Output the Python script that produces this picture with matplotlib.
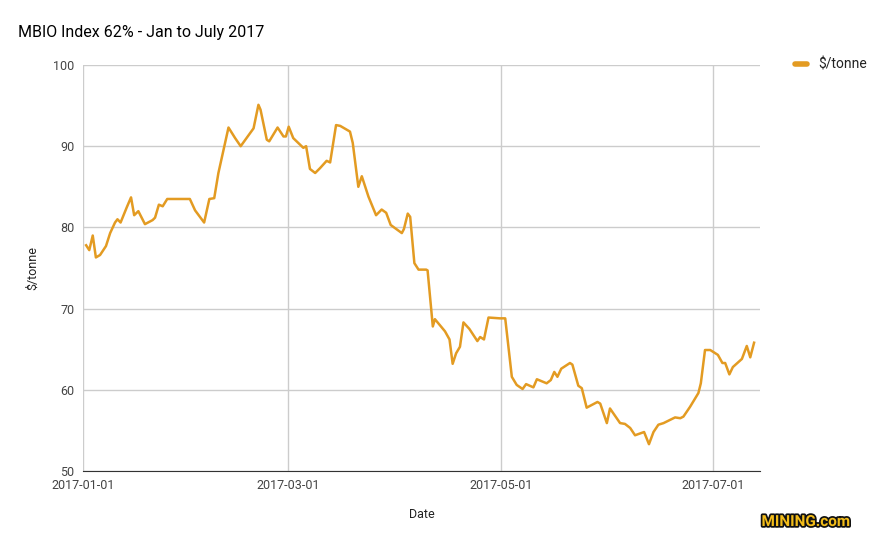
import pandas as pd
import matplotlib.pyplot as plt
import matplotlib.dates as mdates
import matplotlib.patheffects as pe
from matplotlib.lines import Line2D

# days after 2017-01-01 and price in $/tonne
days = [
    0.9, 1.8, 2.8, 3.7, 4.9, 6.6, 7.8, 9.2, 9.9, 10.8, 12.6, 13.8, 14.7, 15.9,
    17.8, 20.0, 20.7, 21.8, 22.9, 24.2, 30.7, 32.2, 34.8, 36.3, 37.7, 38.9,
    41.8, 43.7, 45.3, 49.0, 50.4, 51.0, 52.8, 53.5, 55.9, 57.6, 58.3, 59.1,
    60.4, 63.3, 64.1, 65.2, 66.7, 68.1, 70.0, 71.0, 72.7, 73.9, 76.7, 77.5,
    79.1, 80.1, 82.0, 84.2, 85.8, 87.1, 88.4, 91.6, 92.2, 93.3, 94.0, 95.2,
    96.4, 98.6, 99.0, 100.5, 101.1, 104.0, 105.3, 106.2, 107.2, 108.3, 109.3,
    111.0, 113.3, 114.1, 115.2, 116.5, 119.8, 120.8, 121.3, 123.2, 124.6,
    126.3, 127.3, 129.4, 130.4, 133.2, 134.4, 135.4, 136.3, 137.4, 139.9,
    140.6, 142.3, 143.3, 144.7, 147.8, 148.6, 150.5, 151.4, 154.3, 155.7,
    157.2, 158.6, 161.2, 162.6, 163.9, 165.3, 166.8, 170.1, 171.6, 172.5,
    174.4, 176.8, 177.5, 178.7, 180.2, 182.4, 183.7, 184.5, 185.7, 186.7,
    189.3, 190.7, 191.7, 192.8,
]
price = [
    77.8, 77.2, 79.0, 76.3, 76.6, 77.7, 79.3, 80.6, 81.0, 80.6, 82.5, 83.7, 81.5, 82.0,
    80.4, 80.9, 81.2, 82.8, 82.6, 83.5, 83.5, 82.1, 80.6, 83.5, 83.6, 86.7,
    92.3, 91.0, 90.0, 92.2, 95.1, 94.5, 90.8, 90.6, 92.3, 91.2, 91.2, 92.4,
    91.0, 89.8, 90.0, 87.2, 86.7, 87.3, 88.2, 88.0, 92.6, 92.5, 91.8, 90.4,
    85.0, 86.3, 83.8, 81.5, 82.2, 81.8, 80.3, 79.3, 79.8, 81.7, 81.3, 75.6,
    74.8, 74.8, 74.7, 67.8, 68.7, 67.2, 66.2, 63.2, 64.5, 65.3, 68.3,
    67.5, 66.0, 66.5, 66.2, 68.9, 68.8, 68.8, 68.8, 61.6, 60.6,
    60.1, 60.7, 60.3, 61.3, 60.8, 61.2, 62.2, 61.6, 62.6, 63.3,
    63.1, 60.5, 60.2, 57.8, 58.5, 58.3, 55.9, 57.7, 55.9, 55.8,
    55.3, 54.4, 54.8, 53.3, 54.8, 55.7, 55.9, 56.6, 56.5, 56.7,
    57.9, 59.6, 60.8, 64.9, 64.9, 64.3, 63.3, 63.3, 61.9, 62.8,
    63.8, 65.4, 64.0, 65.8,
]
x_ticks = ["2017-01-01", "2017-03-01", "2017-05-01", "2017-07-01"]
y_ticks = [50, 60, 70, 80, 90, 100]

start = pd.Timestamp("2017-01-01")
dates = [start + pd.Timedelta(days=d) for d in days]

plt.rcParams["font.family"] = ["Roboto", "DejaVu Sans"]

fig = plt.figure(figsize=(8.82, 5.46), dpi=100)
ax = fig.add_axes([83 / 882, 1 - 471 / 546, (760 - 83) / 882, (471 - 65) / 546])

color = "#e39b22"
ax.plot(dates, price, color=color, lw=1.8, solid_joinstyle="round")

ax.set_ylim(50, 100)
ax.set_yticks(y_ticks)
ax.set_xlim(start, start + pd.Timedelta(days=194.5))
ax.set_xticks([pd.Timestamp(t) for t in x_ticks])
ax.xaxis.set_major_formatter(mdates.DateFormatter("%Y-%m-%d"))

ax.grid(True, color="#cccccc", lw=1)
ax.set_axisbelow(True)
for s in ax.spines.values():
    s.set_visible(False)
ax.spines["bottom"].set_visible(True)
ax.spines["bottom"].set_color("#333333")
ax.tick_params(length=0, labelsize=9, colors="#444444", pad=6)

ax.set_xlabel("Date", fontsize=9, color="#222222", labelpad=11)
ax.set_ylabel("$/tonne", fontsize=9, color="#222222", labelpad=10)

fig.text(18 / 882, 1 - 32 / 546, "MBIO Index 62% - Jan to July 2017",
         fontsize=11.5, color="#000000", va="center")

# legend
handle = Line2D([0], [0], color=color, lw=4, solid_capstyle="round")
fig.legend([handle], ["$/tonne"], loc="center left",
           bbox_to_anchor=(782 / 882, 1 - 65 / 546), frameon=False,
           fontsize=10, handlelength=0.9, handletextpad=0.8,
           labelcolor="#222222")

# watermark
fig.text(806 / 882, 1 - 522 / 546, "MINING.com", fontsize=11, fontweight="bold",
         color="#f3bd1a", ha="center", va="center",
         path_effects=[pe.withStroke(linewidth=2.5, foreground="#111111")])

fig.savefig("out.png", dpi=100)
